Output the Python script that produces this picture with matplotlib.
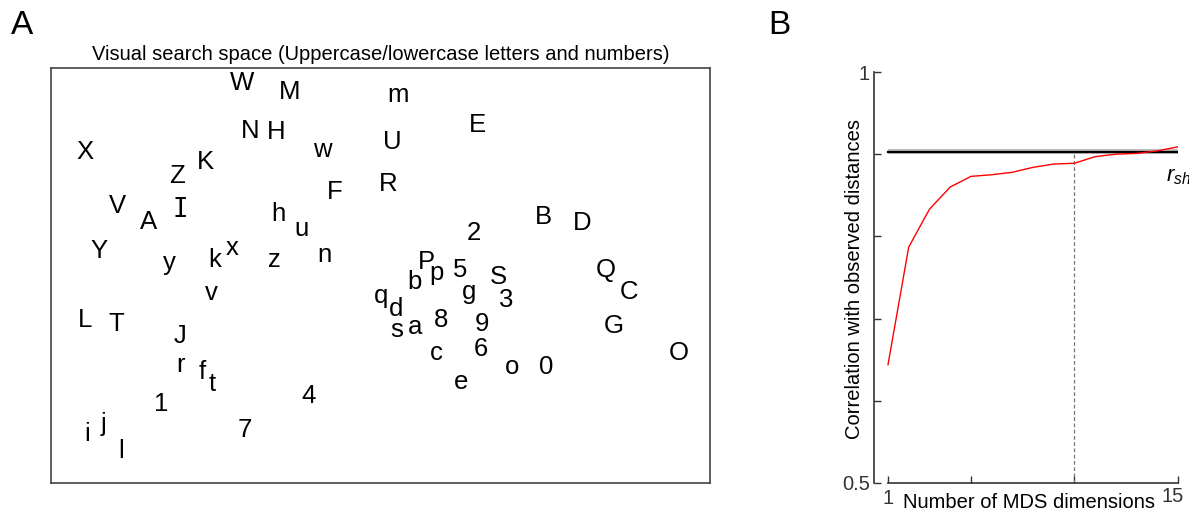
import numpy as np
import matplotlib
matplotlib.use("Agg")
import matplotlib.pyplot as plt
import matplotlib.transforms as mtransforms

plt.rcParams['font.family'] = ['Liberation Sans', 'DejaVu Sans']
plt.rcParams['mathtext.fontset'] = 'custom'
plt.rcParams['mathtext.it'] = 'Liberation Sans:italic'
plt.rcParams['mathtext.rm'] = 'Liberation Sans'

# MDS embedding of the search items (dim 1 grows right, dim 2 grows down)
symbols = ['W', 'M', 'm', 'E', 'N', 'H', 'w', 'U', 'X', 'K', 'Z', 'F', 'R',
           'V', 'I', 'A', 'h', 'u', '2', 'B', 'D', 'Y', 'y', 'k', 'x', 'z',
           'n', 'P', 'p', '5', 'S', 'b', 'g', '3', 'Q', 'C', 'q', 'd', 'v',
           'L', 'T', 's', 'a', '8', '9', 'G', 'J', '6', 'c', 'O', 'r', 'f',
           't', 'o', '0', 'e', '4', '1', '7', 'i', 'j', 'l']
dim1 = [242, 290, 398, 477, 250, 276, 322, 392, 85, 205, 177, 335, 388,
        117, 180, 149, 278, 302, 474, 543, 582, 99, 169, 215, 232, 274,
        324, 426, 437, 460, 498, 415, 469, 506, 606, 629, 381, 396, 211,
        85, 116, 397, 415, 441, 482, 614, 180, 481, 436, 679, 181, 202,
        212, 512, 546, 461, 309, 161, 245, 87, 104, 121]
dim2 = [83, 92, 95, 125, 131, 132, 150, 142, 152, 162, 176, 192, 184,
        206, 210, 222, 214, 229, 233, 217, 223, 251, 263, 260, 248, 260,
        255, 262, 273, 270, 277, 282, 292, 300, 270, 292, 296, 309, 293,
        320, 324, 330, 327, 320, 324, 326, 336, 349, 353, 353, 365, 372,
        384, 367, 367, 382, 396, 404, 430, 434, 424, 451]

# correlation of MDS distances with observed distances vs. number of dimensions
n_dims = list(range(1, 16))
mds_corr = [0.644, 0.787, 0.833, 0.860, 0.873, 0.875, 0.878, 0.884, 0.888,
            0.889, 0.897, 0.900, 0.901, 0.904, 0.909]
r_sh = 0.903
r_sh_err = 0.003
chosen_dim = 10

W, H = 1189, 513
fig = plt.figure(figsize=(W / 100, H / 100), dpi=100)


def px_axes(l, t, r, b):
    return fig.add_axes([l / W, 1 - b / H, (r - l) / W, (b - t) / H])


# ---- panel A ----
ax1 = px_axes(51, 68, 710, 483)
ax1.set_xlim(51, 710)
ax1.set_ylim(483, 68)
for s, x, y in zip(symbols, dim1, dim2):
    # serif capital I so it can't be confused with lowercase l
    fam = ['DejaVu Sans Mono'] if s == 'I' else None
    ax1.text(x, y, s, ha='center', va='center', fontsize=18.5, family=fam)
ax1.set_xticks([])
ax1.set_yticks([])
for sp in ax1.spines.values():
    sp.set_color('#444444')
    sp.set_linewidth(1.2)
ax1.set_title('Visual search space (Uppercase/lowercase letters and numbers)',
              fontsize=14.5, pad=6)

# ---- panel B ----
ax2 = px_axes(874, 72, 1178, 483)
ax2.set_xlim(1 - 14 * 14 / 290, 15)
ax2.set_ylim(0.5, 1.0)
ax2.fill_between([1, 15], r_sh - r_sh_err, r_sh + r_sh_err,
                 color='#bbbbbb', lw=0)
ax2.plot([1, 15], [r_sh, r_sh], color='black', lw=1.6)
ax2.plot([chosen_dim, chosen_dim], [0.5, r_sh], color='#777777',
         lw=0.9, ls=(0, (3, 2)))
ax2.plot(n_dims, mds_corr, color='red', lw=1.0)
ax2.text(14.4, 0.873, r'$r_{sh}$', ha='left', va='center', fontsize=16,
         clip_on=False)

ax2.spines['top'].set_visible(False)
ax2.spines['right'].set_visible(False)
ax2.spines['left'].set_bounds(0.5, 1.0)
ax2.spines['bottom'].set_bounds(1, 15)
for sp in ('left', 'bottom'):
    ax2.spines[sp].set_linewidth(1.2)
    ax2.spines[sp].set_color('#333333')
ax2.set_xticks([1, 5, 10, 15])
ax2.set_xticklabels(['1', '', '', '15'])
ax2.set_yticks([0.5, 0.6, 0.7, 0.8, 0.9, 1.0])
ax2.set_yticklabels(['0.5', '', '', '', '', '1'])
ax2.tick_params(direction='in', length=5, width=1, labelsize=14.5,
                colors='#333333', pad=3)
ax2.tick_params(axis='x', pad=4)
# pull the "15" slightly left and up, clear of the figure edge
last = ax2.get_xticklabels()[-1]
last.set_transform(last.get_transform() +
                   mtransforms.ScaledTranslation(-5 / 100, 2 / 100,
                                                 fig.dpi_scale_trans))
ax2.set_xlabel('Number of MDS dimensions', fontsize=14.5)
ax2.xaxis.set_label_coords((1029 - 874) / 304, -(503 - 483) / 411)
ax2.set_ylabel('Correlation with observed distances', fontsize=14.5)
ax2.yaxis.set_label_coords(-(874 - 855) / 304, (483 - 279) / 411)
ax2.yaxis.label.set_va('center')
ax2.xaxis.label.set_va('center')

fig.text(22 / W, 1 - 25 / H, 'A', fontsize=24, ha='center', va='center')
fig.text(779 / W, 1 - 25 / H, 'B', fontsize=24, ha='center', va='center')

fig.savefig('out.png', dpi=100)
